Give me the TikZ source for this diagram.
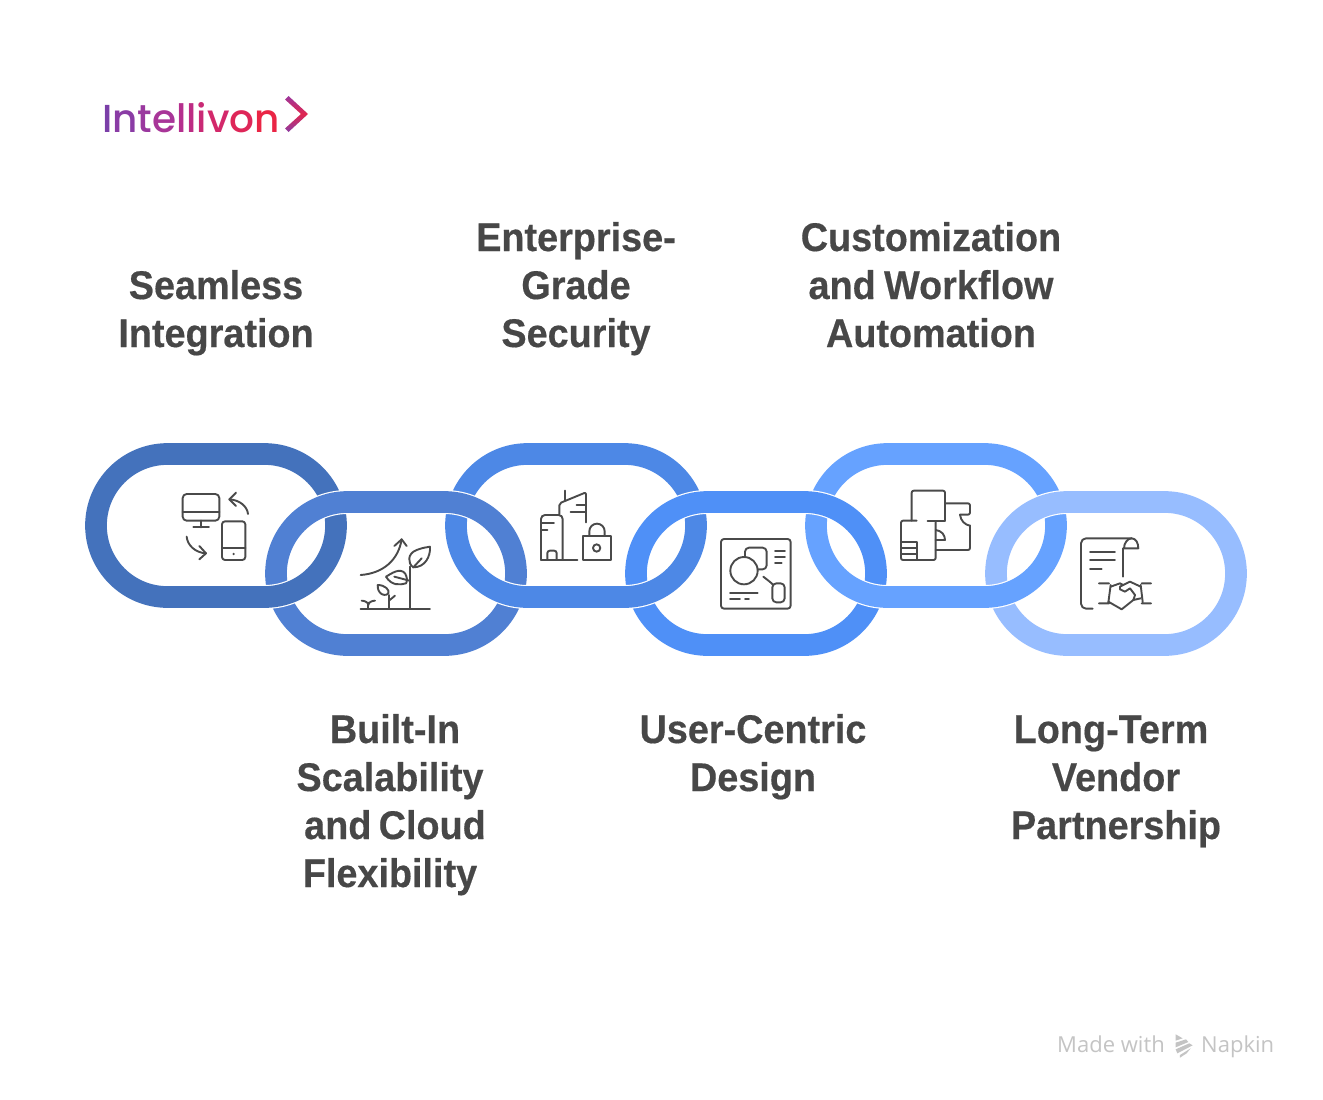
\documentclass[tikz,border=0pt]{standalone}
\usepackage{fontspec}
\setmainfont[BoldFeatures={FakeStretch=0.945,FakeBold=0.4}]{Liberation Sans}
\newfontfamily\logofont{Poppins Medium}
\newfontfamily\markfont{Open Sans}
\definecolor{pa}{HTML}{4472BC}
\definecolor{pb}{HTML}{5080D3}
\definecolor{pc}{HTML}{4D88E6}
\definecolor{pd}{HTML}{4F90F7}
\definecolor{pe}{HTML}{66A2FF}
\definecolor{pf}{HTML}{97BDFF}
\definecolor{ink}{HTML}{474747}
\definecolor{icongray}{HTML}{4A4A4A}
\definecolor{markgray}{HTML}{C4C4C4}
\definecolor{chevtop}{HTML}{9C379E}
\definecolor{chevmid}{HTML}{E0264F}
\definecolor{chevbot}{HTML}{8A3CA5}
\tikzset{
  pillcase/.style={draw=white,line width=24pt},
  pillband/.style={line width=21.7pt},
  icon/.style={draw=icongray,line width=1.9pt,line cap=round,line join=round},
  title/.style={inner sep=0pt,text width=460pt,align=center,text=ink,font=\fontsize{40}{48}\selectfont\bfseries,anchor=base},
}
\newcommand{\pillshape}[2]{(#1+82.5,#2+11) -- (#1+179.5,#2+11) arc[start angle=-90,end angle=90,radius=71.5] -- (#1+82.5,#2+154) arc[start angle=90,end angle=270,radius=71.5] -- cycle}
\newcommand{\pillat}[3]{%
  \draw[pillcase] \pillshape{#1}{#2};
  \draw[pillband,draw=#3] \pillshape{#1}{#2};
}
\newcommand{\lineshift}[2]{\hspace*{#1pt}#2}
\begin{document}
\begin{tikzpicture}[x=1pt,y=-1pt]
\useasboundingbox (0,0) rectangle (1323,1100);
\fill[white] (0,0) rectangle (1323,1100);
% chain
\pillat{85}{443}{pa}
\pillat{445}{443}{pc}
\pillat{805}{443}{pe}
\pillat{265}{491}{pb}
\pillat{625}{491}{pd}
\pillat{985}{491}{pf}
\begin{scope}
\clip (0,552) rectangle (1323,700);
\pillat{85}{443}{pa}
\pillat{445}{443}{pc}
\pillat{805}{443}{pe}
\end{scope}
% titles
\node[title] (t1) at (216,299) {Seamless\\Integration};
\node[title] (t3) at (576,251) {Enterprise-\\Grade\\Security};
\node[title] (t5) at (931,251) {Customization\\and\hspace{-5pt} Workflow\\Automation};
\node[title] (t2) at (395,743) {Built-In\\\lineshift{-10}{Scalability}\\and\hspace{-6pt} Cloud\\\lineshift{-10}{Flexibility}};
\node[title] (t4) at (753,743) {User-Centric\\Design};
\node[title] (t6) at (1116,743) {\lineshift{-10}{Long-Term}\\Vendor\\Partnership};
% icon 1
\begin{scope}[shift={(170,480)},x=.3333pt,y=-.3333pt,icon]
\draw[rounded corners=4pt] (38,42) rectangle (148,122);
\draw (38,97)--(148,97) (93,122)--(93,142) (70,142)--(117,142);
\draw[rounded corners=3pt] (156,124) rectangle (226,240);
\draw (156,204)--(226,204);
\fill[icongray] (191,222) circle (4);
\draw (234,102) .. controls (232,80) and (210,60) .. (178,58);
\draw (198,38)--(178,58)--(198,78);
\draw (50,170) .. controls (52,195) and (75,218) .. (108,220);
\draw (88,198)--(108,220)--(88,238);
\end{scope}
% icon 2
\begin{scope}[shift={(350,530)},x=.3333pt,y=-.3333pt,icon]
\draw (32,236)--(240,236) (181,236)--(181,110);
\draw (32,135) .. controls (100,130) and (145,90) .. (155,28);
\draw (133,48)--(155,28)--(170,48);
\draw (190,112) .. controls (172,100) and (172,70) .. (200,60) .. controls (220,52) and (232,52) .. (240,50) .. controls (242,80) and (225,112) .. (190,112);
\draw (190,112)--(215,85);
\draw (108,140) .. controls (125,130) and (150,112) .. (165,130) .. controls (172,140) and (172,155) .. (168,160) .. controls (150,165) and (125,168) .. (108,140);
\draw (133,140)--(178,152);
\draw (83,165) .. controls (105,165) and (120,180) .. (115,190) .. controls (110,198) and (95,195) .. (90,188) .. controls (83,180) and (83,170) .. (83,165);
\draw (117,236)--(117,195) (117,212)--(135,197);
\draw (55,236)--(55,218);
\draw (35,212) .. controls (45,212) and (55,218) .. (55,225);
\draw (75,212) .. controls (65,212) and (55,218) .. (55,225);
\end{scope}
% icon 3
\begin{scope}[shift={(530,480)},x=.3333pt,y=-.3333pt,icon]
\draw[rounded corners=4pt] (33,240)--(33,105)--(98,105)--(98,240);
\draw (33,240)--(142,240);
\draw[rounded corners=2.5pt] (52,240)--(52,212)--(80,212)--(80,240);
\draw (33,130)--(72,130) (33,150)--(52,150);
\draw[rounded corners=2pt] (88,103)--(88,70)--(168,37)--(168,127);
\draw (105,32)--(105,62) (140,76)--(168,76) (122,97)--(168,97);
\draw (158,168) rectangle (242,240);
\draw (178,168)--(178,154) arc[start angle=180,end angle=360,radius=23] -- (224,168);
\draw (200,204) circle (11);
\end{scope}
% icon 4
\begin{scope}[shift={(710,530)},x=.3333pt,y=-.3333pt,icon]
\draw[rounded corners=3pt] (33,27) rectangle (242,236);
\draw (102,122) circle (41);
\draw[rounded corners=4pt] (105,80)--(105,53)--(170,53)--(170,118)--(143,118);
\draw (195,62)--(225,62) (195,80)--(225,80) (195,98)--(215,98);
\draw (160,140) .. controls (170,148) and (180,155) .. (190,165);
\draw[rounded corners=4pt] (187,160) rectangle (224,217);
\draw (60,188)--(143,188) (60,208)--(90,208) (105,208)--(117,208);
\end{scope}
% icon 5
\begin{scope}[shift={(890,480)},x=.3333pt,y=-.3333pt,icon]
\draw[rounded corners=2pt] (65,122)--(65,32)--(165,32)--(165,122);
\draw (165,122)--(113,122);
\draw[rounded corners=2pt] (165,70)--(240,70)--(240,104)--(210,104);
\draw (210,104) .. controls (212,122) and (225,135) .. (240,137);
\draw[rounded corners=2pt] (240,137)--(240,210)--(137,210);
\draw[rounded corners=2pt] (80,122)--(33,122)--(33,240)--(137,240)--(137,127);
\draw (137,150) .. controls (155,152) and (165,165) .. (165,180) -- (137,180);
\draw (33,186)--(80,186)--(80,240) (33,204)--(80,204) (33,222)--(80,222);
\end{scope}
% icon 6
\begin{scope}[shift={(1070,530)},x=.3333pt,y=-.3333pt,icon]
\draw[rounded corners=5pt] (68,236)--(33,236)--(33,25)--(185,25);
\draw (185,25) .. controls (198,25) and (205,40) .. (205,55) -- (162,55) .. controls (162,40) and (172,25) .. (185,25);
\draw (158,55)--(158,140);
\draw (60,65)--(135,65) (60,90)--(135,90) (60,117)--(95,117);
\draw (87,160)--(117,160) (122,165)--(115,218) (87,220)--(117,220);
\draw (243,160)--(215,160) (212,165)--(218,215) (215,220)--(243,220);
\draw (122,170)--(150,160)--(160,165);
\draw (115,215)--(155,238)--(190,210)--(212,205);
\draw (212,170)--(180,155)--(150,170)--(150,178)--(165,185)--(180,175)--(195,195)--(190,210);
\end{scope}
% logo
\node[inner sep=0pt,anchor=base west,font=\logofont\fontsize{39}{39}\selectfont] (logo) at (102,132)
 {\textcolor[HTML]{7B3FA8}{I}\textcolor[HTML]{8A3CA5}{n}\textcolor[HTML]{9A389F}{t}\textcolor[HTML]{A83598}{e}\textcolor[HTML]{B52F8E}{l}\textcolor[HTML]{BD2C84}{l}\textcolor[HTML]{C92A75}{i}\textcolor[HTML]{D3286A}{v}\textcolor[HTML]{DE2658}{o}\textcolor[HTML]{EA2545}{n}};
\shade[top color=chevtop,bottom color=chevbot,middle color=chevmid] (285,99.5)--(288.5,96)--(308,114)--(288.5,132)--(285,128.5)--(301,114)--cycle;
% made with
\node[inner sep=0pt,anchor=base west,text=markgray,font=\markfont\fontsize{22}{22}\selectfont] (made) at (1057,1052) {Made with};
\node[inner sep=0pt,anchor=base west,text=markgray,font=\markfont\fontsize{22}{22}\selectfont] (napkin) at (1201,1052) {Napkin};
\begin{scope}[shift={(1040,1020)},x=.3333pt,y=-.3333pt]
\fill[markgray] (407,43)--(428,55)--(407,62)--cycle;
\fill[markgray] (407,68)--(438,58)--(445,66)--(407,82)--cycle;
\fill[markgray] (407,88)--(448,70)--(458,76)--(412,100)--cycle;
\fill[markgray] (420,105)--(452,85)--(440,100)--(420,113)--cycle;
\end{scope}
\end{tikzpicture}
\end{document}
